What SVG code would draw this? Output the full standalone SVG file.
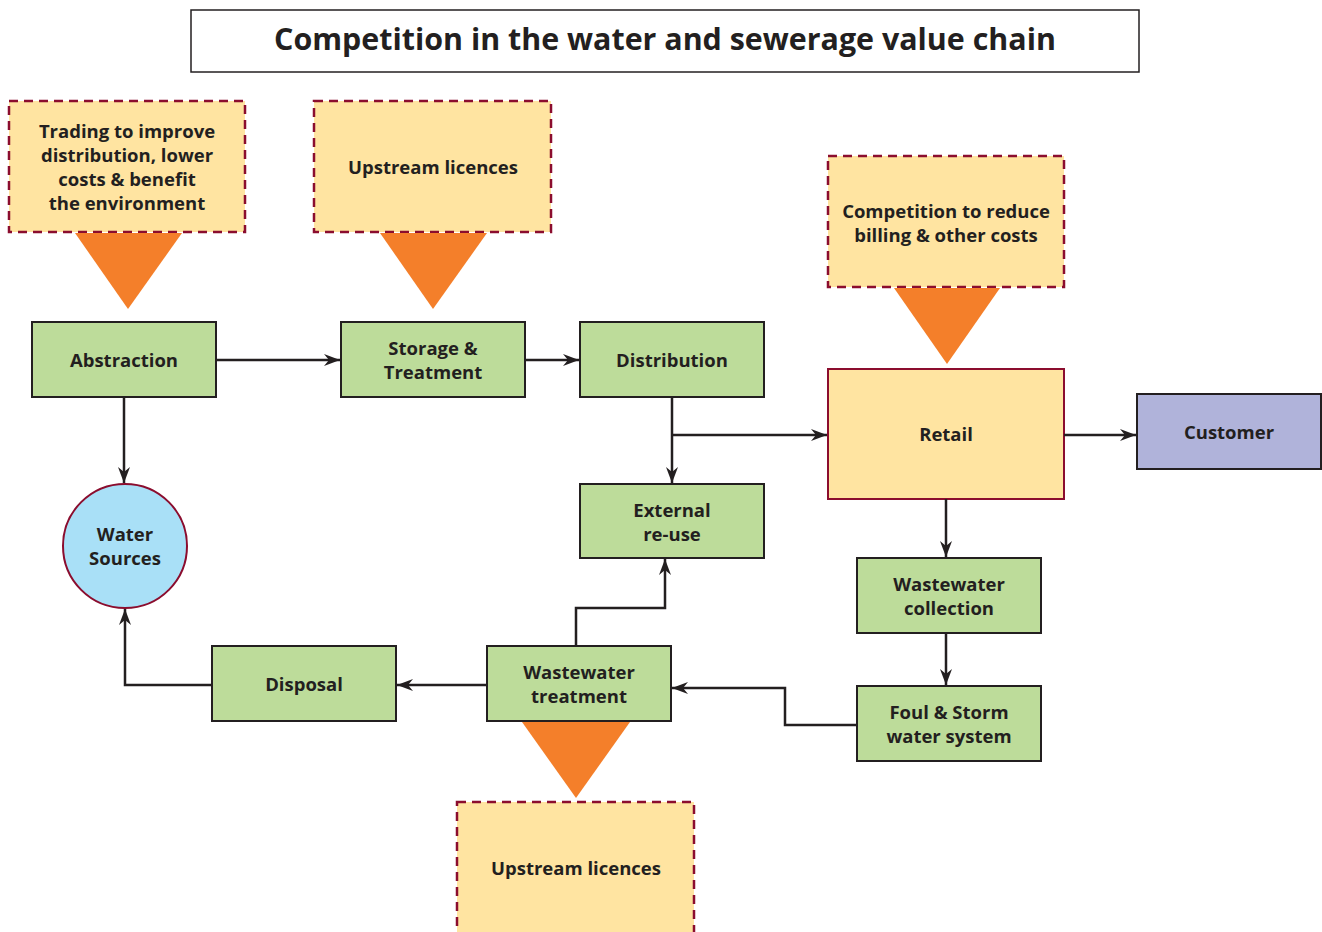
<svg xmlns="http://www.w3.org/2000/svg" width="1322" height="932" viewBox="0 0 1322 932">
<style>
text{font-family:"Open Sans","Noto Sans","Liberation Sans",sans-serif;font-weight:bold;fill:#231F20;text-anchor:middle}
.lbl{font-size:18.5px}
.green{fill:#BDDC9A;stroke:#231F20;stroke-width:2}
.note{fill:#FFE4A1;stroke:#8B0D2E;stroke-width:2.5;stroke-dasharray:9 6}
.tri{fill:#F47F2A}
.con{fill:none;stroke:#231F20;stroke-width:2.5;marker-end:url(#ah)}
</style>
<defs>
<marker id="ah" viewBox="0 0 16 12" refX="16" refY="6" markerWidth="16" markerHeight="12" markerUnits="userSpaceOnUse" orient="auto">
<path d="M0,0 L16,6 L0,12 L5,6 z" fill="#231F20"/>
</marker>
</defs>
<g id="title">
<rect x="191" y="10" width="948" height="62" fill="#fff" stroke="#231F20" stroke-width="1.5"/>
<text x="665" y="50" font-size="30.4">Competition in the water and sewerage value chain</text>
</g>
<g id="note-trading">
<rect class="note" x="9" y="101" width="236" height="131"/>
<polygon class="tri" points="75,233 182,233 128,309"/>
<text class="lbl"><tspan x="127" y="138">Trading to improve</tspan><tspan x="127" y="162">distribution, lower</tspan><tspan x="127" y="186">costs &amp; benefit</tspan><tspan x="127" y="210">the environment</tspan></text>
</g>
<g id="note-upstream1">
<rect class="note" x="314" y="101" width="237" height="131"/>
<polygon class="tri" points="380,233 487,233 433,309"/>
<text class="lbl" x="433" y="174">Upstream licences</text>
</g>
<g id="note-competition">
<rect class="note" x="828" y="156" width="236" height="131"/>
<polygon class="tri" points="894,288 1000,288 947,364"/>
<text class="lbl"><tspan x="946" y="218">Competition to reduce</tspan><tspan x="946" y="242">billing &amp; other costs</tspan></text>
</g>
<g id="abstraction">
<rect class="green" x="32" y="322" width="184" height="75"/>
<text class="lbl" x="124" y="367">Abstraction</text>
</g>
<g id="storage">
<rect class="green" x="341" y="322" width="184" height="75"/>
<text class="lbl"><tspan x="433" y="355">Storage &amp;</tspan><tspan x="433" y="379">Treatment</tspan></text>
</g>
<g id="distribution">
<rect class="green" x="580" y="322" width="184" height="75"/>
<text class="lbl" x="672" y="367">Distribution</text>
</g>
<g id="retail">
<rect x="828" y="369" width="236" height="130" fill="#FFE4A1" stroke="#8B0D2E" stroke-width="2"/>
<text class="lbl" x="946" y="441">Retail</text>
</g>
<g id="customer">
<rect x="1137" y="394" width="184" height="75" fill="#B0B3DA" stroke="#231F20" stroke-width="2"/>
<text class="lbl" x="1229" y="439">Customer</text>
</g>
<g id="external">
<rect class="green" x="580" y="484" width="184" height="74"/>
<text class="lbl"><tspan x="672" y="517">External</tspan><tspan x="672" y="541">re-use</tspan></text>
</g>
<g id="water-sources">
<circle cx="125" cy="546" r="62" fill="#A9E0F7" stroke="#8B0D2E" stroke-width="2"/>
<text class="lbl"><tspan x="125" y="541">Water</tspan><tspan x="125" y="565">Sources</tspan></text>
</g>
<g id="ww-collection">
<rect class="green" x="857" y="558" width="184" height="75"/>
<text class="lbl"><tspan x="949" y="591">Wastewater</tspan><tspan x="949" y="615">collection</tspan></text>
</g>
<g id="foul-storm">
<rect class="green" x="857" y="686" width="184" height="75"/>
<text class="lbl"><tspan x="949" y="719">Foul &amp; Storm</tspan><tspan x="949" y="743">water system</tspan></text>
</g>
<g id="ww-treatment">
<rect class="green" x="487" y="646" width="184" height="75"/>
<polygon class="tri" points="522,722 630,722 576,798"/>
<text class="lbl"><tspan x="579" y="679">Wastewater</tspan><tspan x="579" y="703">treatment</tspan></text>
</g>
<g id="disposal">
<rect class="green" x="212" y="646" width="184" height="75"/>
<text class="lbl" x="304" y="691">Disposal</text>
</g>
<g id="note-upstream2">
<rect class="note" x="457" y="802" width="237" height="140"/>
<text class="lbl" x="576" y="875">Upstream licences</text>
</g>
<g id="connectors">
<path class="con" d="M216,360 H340"/>
<path class="con" d="M525,360 H579"/>
<path class="con" d="M672,397 V483"/>
<path class="con" d="M672,435 H827"/>
<path class="con" d="M1064,435 H1136"/>
<path class="con" d="M124,397 V483"/>
<path class="con" d="M946,499 V557"/>
<path class="con" d="M946,633 V685"/>
<path class="con" d="M857,725 H785 V688 H672"/>
<path class="con" d="M487,685 H397"/>
<path class="con" d="M576,646 V608 H665 V559"/>
<path class="con" d="M212,685 H125 V609"/>
</g>
</svg>
